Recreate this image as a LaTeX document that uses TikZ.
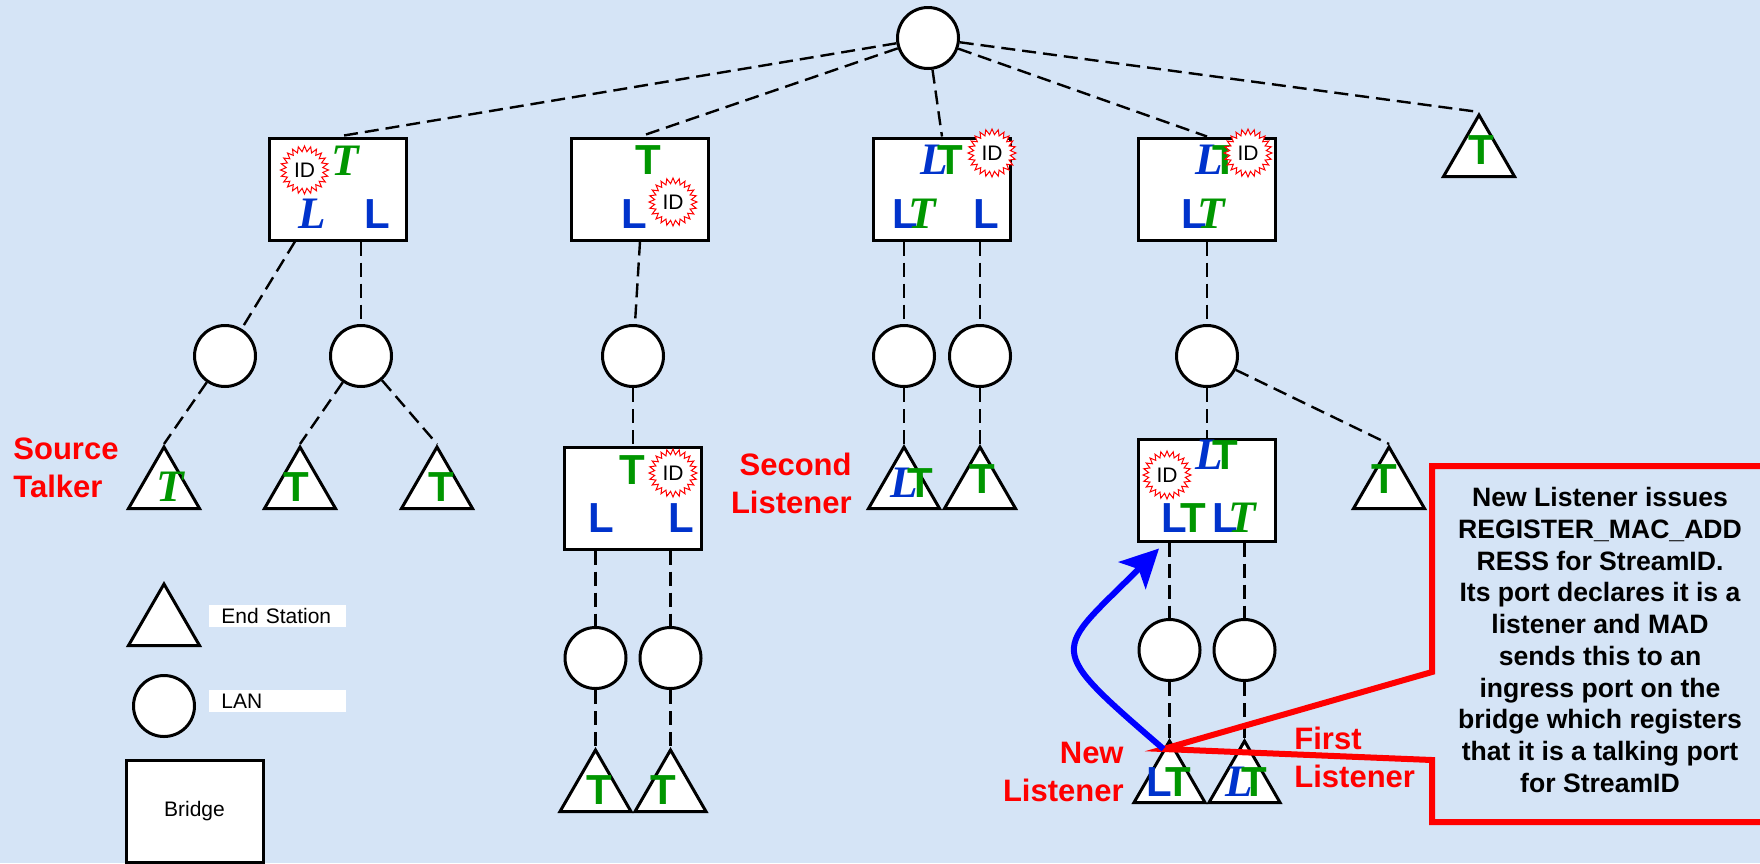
\documentclass[tikz,border=0pt]{standalone}
\usepackage{fontspec}
\setmainfont{Liberation Sans}
\newfontfamily\tnr{Liberation Serif}
\usetikzlibrary{positioning,shapes.geometric,arrows.meta}
\definecolor{bgblue}{RGB}{213,228,246}
\definecolor{tgreen}{RGB}{0,150,0}
\definecolor{lblue}{RGB}{0,51,204}
\tikzstyle{lan}=[draw, circle, fill=white, line width=1.5pt, minimum size=30.5pt, inner sep=0pt]
\tikzstyle{brg}=[draw, fill=white, line width=1.5pt, minimum width=68.5pt, minimum height=51pt, inner sep=0pt]
\tikzstyle{stn}=[draw, regular polygon, regular polygon sides=3, fill=white, line width=1.5pt, minimum size=41pt, inner sep=0pt]
\tikzstyle{idmark}=[star, star points=24, star point ratio=1.3, draw=red, line width=0.5pt, fill=white, minimum size=24pt, inner sep=0pt, font=\fontsize{10.5}{10.5}\selectfont]
\tikzstyle{ltr}=[inner sep=0pt, font=\bfseries\fontsize{21}{21}\selectfont]
\tikzstyle{dashlink}=[line width=1.2pt, dash pattern=on 7pt off 3.5pt]
\tikzstyle{redlbl}=[inner sep=0pt, text=red, font=\bfseries\fontsize{15.5}{19}\selectfont]
\tikzstyle{keybox}=[fill=white, inner xsep=6pt, inner ysep=0pt, text width=56.5pt, minimum height=11pt, align=left, font=\fontsize{10.5}{12}\selectfont]
\tikzstyle{calltxt}=[inner sep=0pt, align=center, font=\bfseries\fontsize{13.3}{15.85}\selectfont]
\newcommand{\Lup}{\textcolor{lblue}{L}}
\newcommand{\Tup}{\textcolor{tgreen}{T}}
\newcommand{\Lit}{\textcolor{lblue}{\tnr\itshape\fontsize{22.5}{22.5}\selectfont L}}
\newcommand{\Tit}{\textcolor{tgreen}{\tnr\itshape\fontsize{22.5}{22.5}\selectfont T}}
\begin{document}
\begin{tikzpicture}[x=0.5pt,y=-0.5pt,>={Stealth[length=19pt,width=19pt,inset=4.5pt]}]
\fill[bgblue] (0,0) rectangle (1760,863);
\useasboundingbox (0,0) rectangle (1760,863);

\node[lan] (lanTop) at (928,38) {};
\node[brg] (b1) at (338,189) {};
\node[brg, right of = b1, node distance = 151pt] (b2) {};
\node[brg, right of = b2, node distance = 151pt] (b3) {};
\node[brg, right of = b3, node distance = 132.5pt] (b4) {};
\node[stn] (stTR) at (1479,156) {};

% first bridge
\node[lan] (lanA) at (225,356) {};
\node[lan, below of = b1, node distance = 83.5pt, xshift = 11.5pt] (lanB) {};
\node[stn] (st1) at (164,488) {};
\node[stn] (st2) at (300,488) {};
\node[stn] (st3) at (437,488) {};

% second bridge
\node[lan] (lanC) at (633,356) {};
\node[brg, below of = lanC, node distance = 71pt] (b6) {};
\node[lan, below of = b6, node distance = 80pt, xshift = -18.75pt] (lanG) {};
\node[lan, below of = b6, node distance = 80pt, xshift = 18.75pt] (lanH) {};
\node[stn, below of = lanG, node distance = 66.5pt] (stG) {};
\node[stn, below of = lanH, node distance = 66.5pt] (stH) {};

% third bridge
\node[lan, below of = b3, node distance = 83.5pt, xshift = -19pt] (lanD) {};
\node[lan, below of = b3, node distance = 83.5pt, xshift = 19pt] (lanE) {};
\node[stn, below of = lanD, node distance = 66pt] (stI) {};
\node[stn, below of = lanE, node distance = 66pt] (stJ) {};

% fourth bridge
\node[lan, below of = b4, node distance = 83.5pt] (lanF) {};
\node[brg, below of = lanF, node distance = 67pt] (b5) {};
\node[stn] (stM) at (1389,488) {};
\node[lan, below of = b5, node distance = 80pt, xshift = -18.75pt] (lanK) {};
\node[lan, below of = b5, node distance = 80pt, xshift = 18.75pt] (lanL) {};
\node[stn, below of = lanK, node distance = 66pt] (stK) {};
\node[stn, below of = lanL, node distance = 66pt] (stL) {};

% port letters and stream ids
\node[idmark] (b1id) at ([shift={(-33.5,-19)}]b1) {ID};
\node[ltr] (b1t) at ([shift={(7,-28)}]b1) {\Tit};
\node[ltr] (b1l) at ([shift={(-26,25)}]b1) {\Lit};
\node[ltr] (b1r) at ([shift={(39,25)}]b1) {\Lup};
\node[ltr] (b2t) at ([shift={(8,-29)}]b2) {\Tup};
\node[ltr] (b2l) at ([shift={(-6,25)}]b2) {\Lup};
\node[idmark] (b2id) at ([shift={(33,13)}]b2) {ID};
\node[ltr] (b3t) at ([shift={(0,-29)}]b3) {\Lit\kern-5.5pt\Tup};
\node[ltr] (b3l) at ([shift={(-28,25)}]b3) {\Lup\kern-5pt\Tit};
\node[ltr] (b3r) at ([shift={(44,25)}]b3) {\Lup};
\node[idmark] (b3id) at ([shift={(50,-36)}]b3) {ID};
\node[ltr] (b4t) at ([shift={(10,-29)}]b4) {\Lit\kern-5.5pt\Tup};
\node[ltr] (b4l) at ([shift={(-4,25)}]b4) {\Lup\kern-5pt\Tit};
\node[idmark] (b4id) at ([shift={(41,-36)}]b4) {ID};
\node[ltr] (b6t) at ([shift={(-1,-28)}]b6) {\Tup};
\node[ltr] (b6l) at ([shift={(-32,20)}]b6) {\Lup};
\node[ltr] (b6r) at ([shift={(48,20)}]b6) {\Lup};
\node[idmark] (b6id) at ([shift={(40,-25)}]b6) {ID};
\node[ltr] (b5t) at ([shift={(10,-35)}]b5) {\Lit\kern-5.5pt\Tup};
\node[ltr] (b5l) at ([shift={(-23,28)}]b5) {\Lup\kern-3.5pt\Tup};
\node[ltr] (b5r) at ([shift={(27,28)}]b5) {\Lup\kern-5pt\Tit};
\node[idmark] (b5id) at ([shift={(-40,-15)}]b5) {ID};

\node[ltr] (st1t) at ([shift={(6,-1)}]st1) {\Tit};
\node[ltr] (st2t) at ([shift={(-4,-1)}]st2) {\Tup};
\node[ltr] (st3t) at ([shift={(4,-1)}]st3) {\Tup};
\node[ltr] (stIt) at ([shift={(8,-5)}]stI) {\Lit\kern-5.5pt\Tup};
\node[ltr] (stJt) at ([shift={(2,-9)}]stJ) {\Tup};
\node[ltr] (stMt) at ([shift={(-5,-9)}]stM) {\Tup};
\node[ltr] (stTRt) at ([shift={(2,-6)}]stTR) {\Tup};
\node[ltr] (stGt) at ([shift={(4,-1)}]stG) {\Tup};
\node[ltr] (stHt) at ([shift={(-7,-1)}]stH) {\Tup};
\node[ltr] (stKt) at ([shift={(-1,0)}]stK) {\Lup\kern-3.5pt\Tup};
\node[ltr] (stLt) at ([shift={(2,0)}]stL) {\Lit\kern-5.5pt\Tup};

% links
\draw[dashlink] (lanTop) -- (b1.north);
\draw[dashlink] (lanTop) -- (b2.north);
\draw[dashlink] (lanTop) -- (b3.north);
\draw[dashlink] (lanTop) -- (b4.north);
\draw[dashlink] (lanTop) -- (stTR.corner 1);
\draw[dashlink] ([xshift=-21.5pt]b1.south) -- (lanA);
\draw[dashlink] (lanB |- b1.south) -- (lanB);
\draw[dashlink] (lanA) -- (st1.corner 1);
\draw[dashlink] (lanB) -- (st2.corner 1);
\draw[dashlink] (lanB) -- (st3.corner 1);
\draw[dashlink] (b2.south) -- (lanC);
\draw[dashlink] (lanC) -- (b6.north);
\draw[dashlink] (lanG |- b6.south) -- (lanG);
\draw[dashlink] (lanH |- b6.south) -- (lanH);
\draw[dashlink] (lanG) -- (stG.corner 1);
\draw[dashlink] (lanH) -- (stH.corner 1);
\draw[dashlink] (lanD |- b3.south) -- (lanD);
\draw[dashlink] (lanE |- b3.south) -- (lanE);
\draw[dashlink] (lanD) -- (stI.corner 1);
\draw[dashlink] (lanE) -- (stJ.corner 1);
\draw[dashlink] (b4.south) -- (lanF);
\draw[dashlink] (lanF) -- (b5.north);
\draw[dashlink] (lanF) -- (stM.corner 1);
\draw[dashlink] (lanK |- b5.south) -- (lanK);
\draw[dashlink] (lanL |- b5.south) -- (lanL);
\draw[dashlink] (lanK) -- (stK.corner 1);
\draw[dashlink] (lanL) -- (stL.corner 1);

% legend
\node[stn] (stLeg) at (164,625) {};
\node[lan] (lanLeg) at (164,706) {};
\node[brg, font=\fontsize{10.5}{12}\selectfont] (brgLeg) at (194.5,811) {Bridge};
\node[keybox, anchor=west] (keyEnd) at (209,615.5) {End Station};
\node[keybox, anchor=west] (keyLan) at (209,701) {LAN};

% red labels
\node[redlbl, align=left, anchor=west] (srcLbl) at (13,468) {Source\\Talker};
\node[redlbl, align=right, anchor=east] (secLbl) at (852,483) {Second\\Listener};
\node[redlbl, align=right, anchor=east] (newLbl) at (1124,772) {New\\Listener};
\node[redlbl, align=left, anchor=west] (firstLbl) at (1294,757) {First\\Listener};

% callout
\coordinate (nl) at ([shift={(-6,11)}]stK.corner 1);
\coordinate (tipB) at ([shift={(22,6)}]b5.south west);
\draw[red, line width=3pt, line join=miter] (1432,672) -- (nl) -- (1432,760) -- (1432,822) -- (1790,822) -- (1790,466) -- (1432,466) -- cycle;
\node[calltxt] (note) at (1600,640) {New Listener issues\\REGISTER\_MAC\_ADD\\RESS for StreamID.\\Its port declares it is a\\listener and MAD\\sends this to an\\ingress port on the\\bridge which registers\\that it is a talking port\\for StreamID};
\draw[->, blue, line width=3pt] (nl) .. controls (1042,644) and (1054,654) .. (tipB);
\end{tikzpicture}
\end{document}
